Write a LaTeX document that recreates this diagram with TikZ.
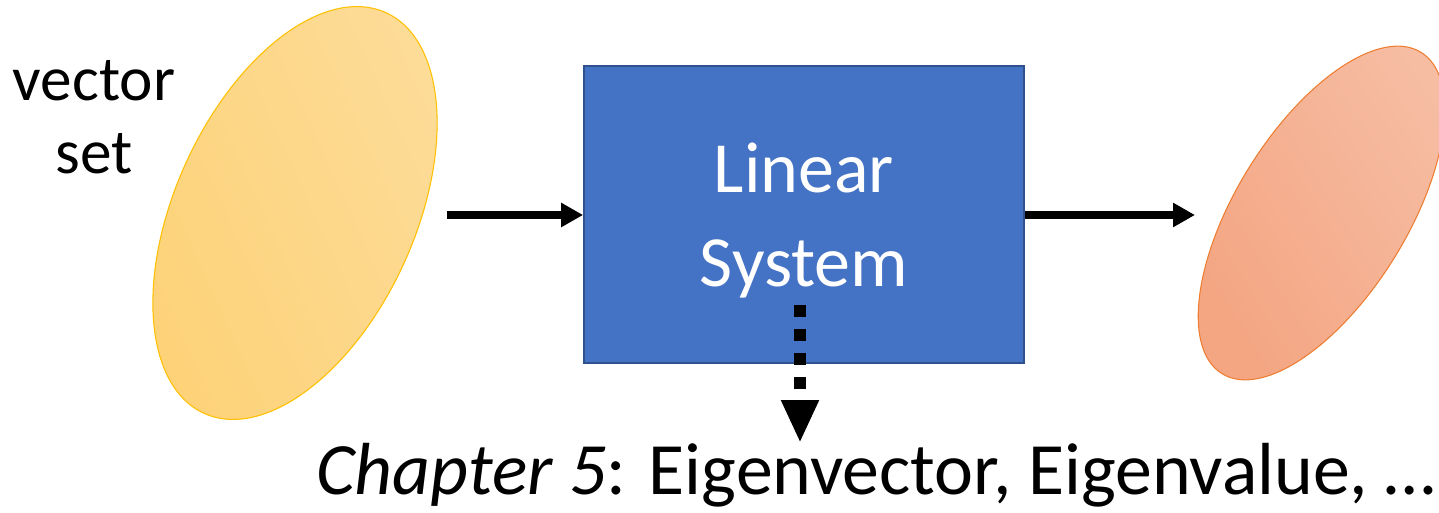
\documentclass[tikz,border=0pt]{standalone}
\usepackage{fontspec}
\setmainfont{Carlito}
\usetikzlibrary{arrows.meta,shapes.geometric}
\definecolor{gelbRand}{HTML}{FFC000}
\definecolor{gelbOben}{HTML}{FDDC98}
\definecolor{gelbUnten}{HTML}{FDD279}
\definecolor{rotRand}{HTML}{ED7D31}
\definecolor{rotOben}{HTML}{F6BDA3}
\definecolor{rotUnten}{HTML}{F4A582}
\definecolor{blauFill}{HTML}{4472C4}
\definecolor{blauRand}{HTML}{2F528F}
\tikzset{
  menge/.style={ellipse,inner sep=0pt,line width=0.6pt},
  pfeil/.style={line width=4.4pt,-{Triangle[length=0.44cm,width=0.46cm]}},
  punktpfeil/.style={line width=6.3pt,dash pattern=on 0.24cm off 0.24cm,
    -{Triangle[length=0.86cm,width=0.7cm]}}
}
\begin{document}
\begin{tikzpicture}
  \useasboundingbox (0,0) rectangle (28.78,10.24);
  % Mengen
  \node[menge,draw=gelbRand,top color=gelbOben,bottom color=gelbUnten,shading angle=-65.6,
    rotate=65.6,minimum width=8.8cm,minimum height=4.8cm] (inset) at (5.9,5.98) {};
  \node[menge,draw=rotRand,top color=rotOben,bottom color=rotUnten,shading angle=-58.2,
    rotate=58.2,minimum width=7.56cm,minimum height=3.42cm] (outset) at (26.43,5.98) {};
  % Beschriftung links
  \node[font=\fontsize{36}{41.5}\selectfont,align=center] (vset) at (1.88,7.9) {vector\\set};
  % System
  \node[font=\fontsize{41}{54}\selectfont,draw=blauRand,line width=1pt,fill=blauFill,
    text=white,align=center,minimum width=8.8cm,minimum height=5.94cm] (sys) at (16.08,5.95) {};
  \node[font=\fontsize{41}{54}\selectfont,text=white,align=center] (systext)
    at ([yshift=-0.12cm]sys.center) {Linear\\System};
  % Pfeile
  \coordinate (ein) at (8.94,5.94);
  \coordinate (aus) at (23.9,5.94);
  \draw[pfeil] (ein) -- (sys.west |- ein);
  \draw[pfeil] (sys.east |- aus) -- (aus);
  % Kapitel
  \node[font=\fontsize{42}{52}\selectfont,anchor=base] (kap) at (17.52,0.36)
    {\textit{Chapter 5}: Eigenvector, Eigenvalue, \dots};
  \coordinate (spitze) at (16.0,1.38);
  \draw[punktpfeil] ([xshift=-0.08cm,yshift=1.18cm]sys.south) -- (spitze);
\end{tikzpicture}
\end{document}
